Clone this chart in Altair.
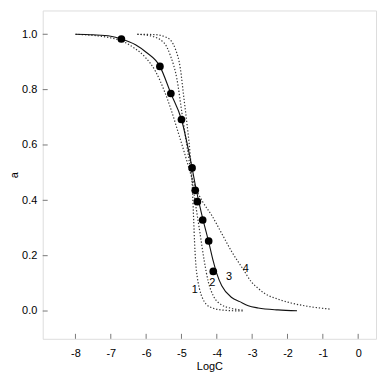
import altair as alt
import pandas as pd

# Curve 1 (dotted, steepest)
x1 = [-6.25, -5.78, -5.41, -5.17, -5.03, -4.94, -4.85, -4.76, -4.71, -4.68, -4.655, -4.63, -4.60, -4.55, -4.49, -4.40, -4.30, -4.10, -3.80, -3.25]
y1 = [1.000, 0.999, 0.988, 0.946, 0.875, 0.779, 0.683, 0.575, 0.49, 0.41, 0.33, 0.25, 0.18, 0.12, 0.08, 0.045, 0.025, 0.010, 0.003, 0.000]
# Curve 2 (dotted)
x2 = [-6.25, -5.87, -5.5, -5.31, -5.13, -4.99, -4.85, -4.72, -4.60, -4.48, -4.36, -4.24, -4.10, -3.90, -3.60, -3.25]
y2 = [1.000, 0.994, 0.970, 0.922, 0.839, 0.719, 0.600, 0.49, 0.385, 0.285, 0.185, 0.105, 0.055, 0.025, 0.010, 0.003]
# Curve 3 (solid, fit)
x3 = [-8.0, -7.5, -7.0, -6.7, -6.3, -6.0, -5.61, -5.3, -5.0, -4.7, -4.6, -4.5, -4.4, -4.3, -4.23, -4.1, -4.0, -3.86, -3.58, -3.35, -3.11, -2.83, -2.27, -1.73]
y3 = [1.000, 0.998, 0.993, 0.983, 0.962, 0.935, 0.884, 0.786, 0.692, 0.517, 0.45, 0.39, 0.335, 0.285, 0.25, 0.18, 0.135, 0.091, 0.049, 0.034, 0.019, 0.011, 0.004, 0.001]
# Curve 4 (dotted, widest)
x4 = [-8.0, -7.5, -7.0, -6.67, -6.39, -6.01, -5.73, -5.5, -5.3, -5.08, -4.9, -4.75, -4.6, -4.4, -4.14, -3.86, -3.58, -3.25, -3.02, -2.83, -2.64, -2.27, -1.9, -1.52, -0.80]
y4 = [1.000, 0.996, 0.987, 0.975, 0.955, 0.915, 0.865, 0.800, 0.730, 0.640, 0.565, 0.500, 0.445, 0.395, 0.345, 0.280, 0.215, 0.150, 0.105, 0.082, 0.063, 0.043, 0.029, 0.019, 0.007]

# Measured points
dot_x = [-6.70, -5.61, -5.30, -5.00, -4.70, -4.61, -4.55, -4.40, -4.23, -4.10]
dot_y = [0.983, 0.884, 0.786, 0.692, 0.517, 0.436, 0.395, 0.329, 0.253, 0.143]

# Curve labels
lab_text = ["1", "2", "3", "4"]
lab_x = [-4.62, -4.126, -3.657, -3.18]
lab_y = [0.075, 0.100, 0.123, 0.151]

x_ticks = [-8, -7, -6, -5, -4, -3, -2, -1, 0]
y_ticks = [0.0, 0.2, 0.4, 0.6, 0.8, 1.0]

rows = []
for name, xs, ys in [("1", x1, y1), ("2", x2, y2), ("4", x4, y4)]:
    for i, (a, b) in enumerate(zip(xs, ys)):
        rows.append({"curve": name, "x": a, "y": b, "o": i})
dotted_df = pd.DataFrame(rows)
solid_df = pd.DataFrame({"x": x3, "y": y3, "o": list(range(len(x3)))})
dots_df = pd.DataFrame({"x": dot_x, "y": dot_y})
labels_df = pd.DataFrame({"t": lab_text, "x": lab_x, "y": lab_y})
xt_df = pd.DataFrame({"v": x_ticks})
yt_df = pd.DataFrame({"v": y_ticks})

W, H = 336, 331
xscale = alt.Scale(domain=[-8.926, 0.505], nice=False, zero=False)
yscale = alt.Scale(domain=[-0.1004, 1.086], nice=False, zero=False)

xaxis = alt.Axis(values=x_ticks, title="LogC", ticks=False, tickSize=0, domain=False, grid=False,
                 labelExpr="'' + datum.value", labelPadding=9, titlePadding=2,
                 labelFont="Liberation Sans", titleFont="Liberation Sans",
                 labelFontSize=11, titleFontSize=11, titleFontWeight="normal",
                 labelColor="black", titleColor="black")
yaxis = alt.Axis(values=y_ticks, title="a", ticks=False, tickSize=0, domain=False, grid=False,
                 format=".1f", labelPadding=6, titlePadding=2,
                 labelFont="Liberation Sans", titleFont="Liberation Sans",
                 labelFontSize=11, titleFontSize=11, titleFontWeight="normal",
                 labelColor="black", titleColor="black")

dotted = alt.Chart(dotted_df).mark_line(
    strokeDash=[1.3, 1.9], strokeWidth=1.2, color="#333", interpolate="monotone"
).encode(
    x=alt.X("x:Q", scale=xscale, axis=xaxis),
    y=alt.Y("y:Q", scale=yscale, axis=yaxis),
    detail="curve:N",
    order="o:Q",
)

solid = alt.Chart(solid_df).mark_line(
    strokeWidth=1.1, color="#111", interpolate="monotone"
).encode(
    x=alt.X("x:Q", scale=xscale),
    y=alt.Y("y:Q", scale=yscale),
    order="o:Q",
)

dots = alt.Chart(dots_df).mark_circle(size=60, color="black", opacity=1).encode(
    x=alt.X("x:Q", scale=xscale),
    y=alt.Y("y:Q", scale=yscale),
)

labels = alt.Chart(labels_df).mark_text(
    font="Liberation Sans", fontSize=11, color="black", align="center", baseline="middle"
).encode(
    x=alt.X("x:Q", scale=xscale),
    y=alt.Y("y:Q", scale=yscale),
    text="t:N",
)

xticks_layer = alt.Chart(xt_df).mark_rule(color="#777", strokeWidth=1).encode(
    x=alt.X("v:Q", scale=xscale),
    y=alt.value(H),
    y2=alt.value(H - 5),
)

yticks_layer = alt.Chart(yt_df).mark_rule(color="#777", strokeWidth=1).encode(
    y=alt.Y("v:Q", scale=yscale),
    x=alt.value(0),
    x2=alt.value(5),
)

chart = alt.layer(dotted, solid, dots, labels, xticks_layer, yticks_layer).properties(
    width=W, height=H,
    autosize=alt.AutoSizeParams(type="none"),
    padding={"left": 35, "top": 1, "right": 2, "bottom": 36},
).configure_view(stroke="#888", strokeWidth=1.5).configure(background="white")

chart.save("out.html", embed_options={"renderer": "svg", "actions": False})
